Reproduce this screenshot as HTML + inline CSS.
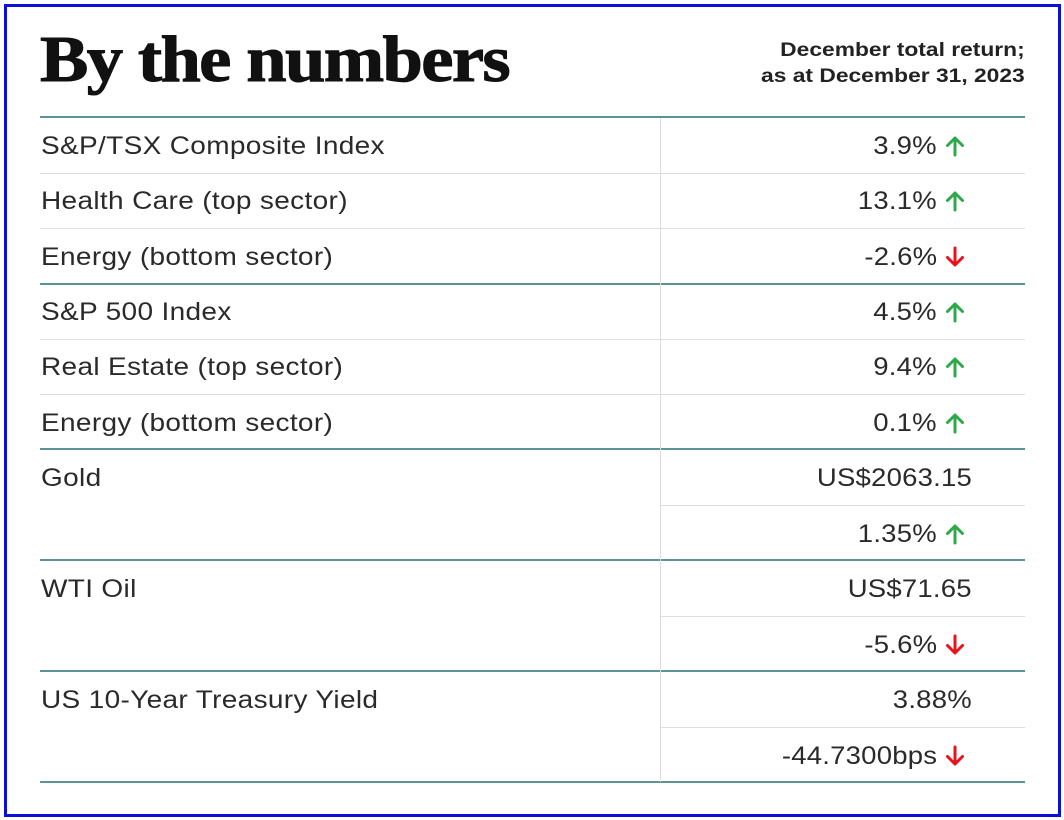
<!DOCTYPE html>
<html><head><meta charset="utf-8"><style>
body{margin:0;background:#fff;width:1064px;height:820px;overflow:hidden;position:relative;font-family:"Liberation Sans",sans-serif;color:#2a2a2a}
.frame{position:absolute;left:4px;top:4px;width:1051px;height:807px;border:3px solid #0a10d8}
.title{position:absolute;left:40px;top:22px;font-family:"Liberation Serif",serif;font-weight:bold;font-size:66px;letter-spacing:-1.5px;color:#111;transform:scaleX(1.1);transform-origin:left top;-webkit-text-stroke:1px #111}
.sub{position:absolute;right:39px;top:38px;text-align:right;font-weight:bold;font-size:19px;line-height:26px;color:#222;transform:scaleX(1.2);transform-origin:right top;white-space:nowrap}
.h{position:absolute;left:40px;width:985px;height:0}
.thick{border-top:2px solid #5e9396}
.thin{border-top:1px solid #ddd}
.vd{position:absolute;left:660px;top:118px;width:1px;height:664px;background:#ddd}
.l{position:absolute;left:41px;font-size:25px;line-height:30px;letter-spacing:0.3px;transform:scaleX(1.12);transform-origin:left center;white-space:nowrap}
.v{position:absolute;right:92px;font-size:25px;line-height:30px;text-align:right;white-space:nowrap;letter-spacing:0.2px;transform:scaleX(1.1);transform-origin:right center}
.a{position:absolute;left:945px;width:20px;height:22px}
</style></head><body>
<div class="frame"></div>
<div class="title">By the numbers</div>
<div class="sub">December total return;<br>as at December 31, 2023</div>
<div class="h thick" style="top:116px"></div>
<div class="h thin" style="top:173px"></div>
<div class="h thin" style="top:228px"></div>
<div class="h thick" style="top:283px"></div>
<div class="h thin" style="top:339px"></div>
<div class="h thin" style="top:394px"></div>
<div class="h thick" style="top:448px"></div>
<div class="h thin" style="top:505px;left:661px;width:364px"></div>
<div class="h thick" style="top:559px"></div>
<div class="h thin" style="top:616px;left:661px;width:364px"></div>
<div class="h thick" style="top:670px"></div>
<div class="h thin" style="top:727px;left:661px;width:364px"></div>
<div class="h thick" style="top:781px"></div>
<div class="vd"></div>

<svg width="0" height="0" style="position:absolute"><defs>
<g id="up"><path d="M10 20V3M2.5 10.5L10 3l7.5 7.5" fill="none" stroke="#2ea84a" stroke-width="3" stroke-linecap="round" stroke-linejoin="round"/></g>
<g id="dn"><path d="M10 2v17M2.5 11.5L10 19l7.5-7.5" fill="none" stroke="#e8141c" stroke-width="3" stroke-linecap="round" stroke-linejoin="round"/></g>
</defs></svg>

<div class="l" style="top:131px">S&amp;P/TSX Composite Index</div>
<div class="v" style="top:131px;right:127px">3.9%</div><svg class="a" style="top:135px"><use href="#up"/></svg>
<div class="l" style="top:186px">Health Care (top sector)</div>
<div class="v" style="top:186px;right:127px">13.1%</div><svg class="a" style="top:190px"><use href="#up"/></svg>
<div class="l" style="top:242px">Energy (bottom sector)</div>
<div class="v" style="top:242px;right:127px">-2.6%</div><svg class="a" style="top:246px"><use href="#dn"/></svg>
<div class="l" style="top:297px">S&amp;P 500 Index</div>
<div class="v" style="top:297px;right:127px">4.5%</div><svg class="a" style="top:301px"><use href="#up"/></svg>
<div class="l" style="top:352px">Real Estate (top sector)</div>
<div class="v" style="top:352px;right:127px">9.4%</div><svg class="a" style="top:356px"><use href="#up"/></svg>
<div class="l" style="top:408px">Energy (bottom sector)</div>
<div class="v" style="top:408px;right:127px">0.1%</div><svg class="a" style="top:412px"><use href="#up"/></svg>
<div class="l" style="top:463px">Gold</div>
<div class="v" style="top:463px">US$2063.15</div>
<div class="v" style="top:519px;right:127px">1.35%</div><svg class="a" style="top:523px"><use href="#up"/></svg>
<div class="l" style="top:574px">WTI Oil</div>
<div class="v" style="top:574px">US$71.65</div>
<div class="v" style="top:630px;right:127px">-5.6%</div><svg class="a" style="top:634px"><use href="#dn"/></svg>
<div class="l" style="top:685px">US 10-Year Treasury Yield</div>
<div class="v" style="top:685px">3.88%</div>
<div class="v" style="top:741px;right:127px">-44.7300bps</div><svg class="a" style="top:745px"><use href="#dn"/></svg>
</body></html>
